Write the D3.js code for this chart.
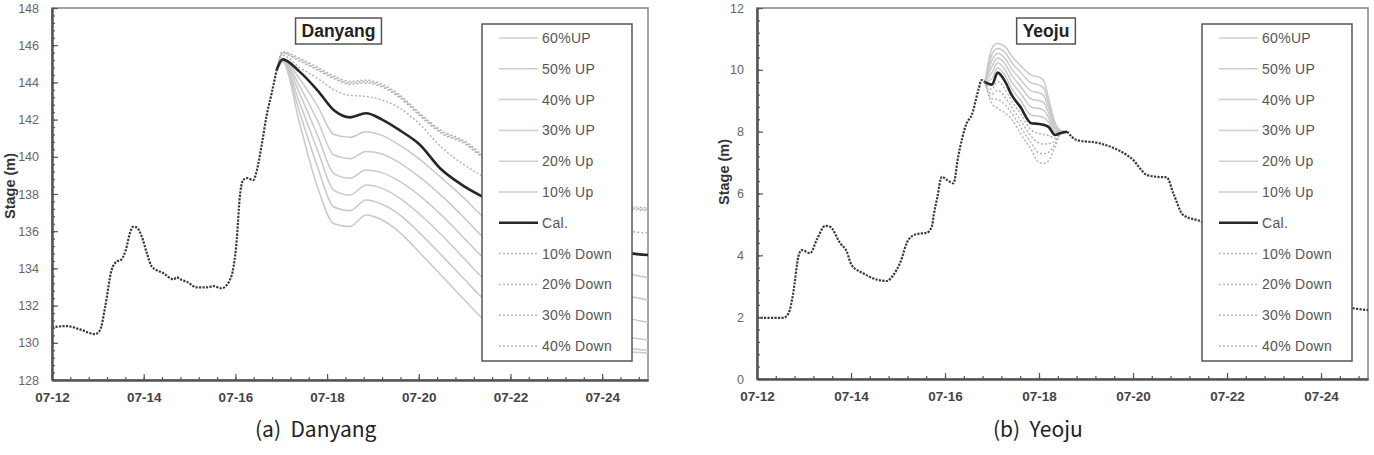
<!DOCTYPE html>
<html><head><meta charset="utf-8">
<script src="https://cdn.jsdelivr.net/npm/d3@7"></script>
<style>body{margin:0;background:#fff}svg{display:block}</style>
</head><body>
<svg id="c" width="1374" height="455"></svg>
<script>
// ---------------- DATA ----------------
const legendLabels = ["60%UP","50% UP","40% UP","30% UP","20% Up","10% Up","Cal.","10% Down","20% Down","30% Down","40% Down"];
const xTickDays = [0,2,4,6,8,10,12];
const xTickLabels = ["07-12","07-14","07-16","07-18","07-20","07-22","07-24"];
const danyangYTicks = [128,130,132,134,136,138,140,142,144,146,148];
const yeojuYTicks = [0,2,4,6,8,10,12];

// Danyang: common part (days since 07-12 00:00)
const danyangBaseT = [0,0.32,0.61,0.94,1.05,1.16,1.30,1.41,1.5,1.61,1.70,1.77,1.85,1.96,2.07,2.18,2.43,2.65,2.72,2.83,2.94,3.16,3.38,3.52,3.7,3.88,3.96,4.03,4.09,4.17,4.25,4.39,4.47,4.58,4.68,4.79,4.9];
const danyangBaseV = [130.83,130.9,130.72,130.47,130.69,131.94,133.91,134.36,134.45,134.99,135.9,136.24,136.2,135.7,134.81,134.09,133.74,133.41,133.52,133.38,133.28,132.98,132.98,133.05,132.93,133.38,134.09,135.53,137.68,138.75,138.86,138.75,139.29,140.73,142.2,143.4,144.67];
// Danyang: scenario part
const danyangT     = [4.9,5.03,5.4,5.8,6.15,6.5,6.85,7.2,7.6,8.0,8.5,9.0,9.4,10,11,12,12.6,13];
const danyangUp60  = [144.67,145.12,141.8,138.3,136.4,136.25,136.87,136.6,135.9,134.9,133.6,132.3,131.3,130.6,129.9,129.6,129.5,129.45];
const danyangUp50  = [144.67,145.14,142.4,139.4,137.3,137.1,137.68,137.45,136.85,135.95,134.7,133.4,132.4,131.6,130.6,129.9,129.7,129.6];
const danyangUp40  = [144.67,145.16,142.9,140.3,138.2,137.95,138.48,138.3,137.75,136.95,135.8,134.5,133.5,132.7,131.6,130.7,130.3,130.15];
const danyangUp30  = [144.67,145.18,143.4,141.1,139.1,138.85,139.29,139.15,138.65,137.95,136.85,135.6,134.6,133.8,132.7,131.7,131.3,131.1];
const danyangUp20  = [144.67,145.2,143.8,141.9,140.1,139.9,140.28,140.15,139.65,138.95,137.9,136.7,135.7,134.9,133.8,132.9,132.5,132.3];
const danyangUp10  = [144.67,145.22,144.2,142.7,141.2,141.05,141.35,141.15,140.6,139.9,138.85,137.75,136.8,136.0,135.0,134.1,133.7,133.5];
const danyangCal   = [144.67,145.24,144.58,143.55,142.5,142.12,142.34,142.0,141.4,140.7,139.3,138.4,137.85,137.2,136.1,135.2,134.82,134.72];
const danyangDn10  = [144.67,145.45,144.8,144.2,143.6,143.3,143.25,143.05,142.6,141.8,140.5,139.55,138.95,138.2,137.3,136.4,136.0,135.9];
const danyangDn20  = [144.67,145.55,145.15,144.65,144.2,143.9,143.97,143.75,143.15,142.25,141.25,140.7,139.95,139.25,138.35,137.55,137.2,137.1];
const danyangDn30  = [144.67,145.6,145.22,144.72,144.27,143.97,144.05,143.82,143.22,142.32,141.32,140.77,140.02,139.32,138.42,137.62,137.27,137.17];
const danyangDn40  = [144.67,145.65,145.3,144.8,144.35,144.05,144.12,143.9,143.3,142.4,141.4,140.85,140.1,139.4,138.5,137.7,137.35,137.25];

// Yeoju: common parts
const yeojuBaseT = [0,0.56,0.67,0.77,0.88,0.95,1.13,1.27,1.45,1.55,1.77,1.91,2.01,2.26,2.54,2.76,2.9,3.04,3.22,3.4,3.61,3.72,3.76,3.84,3.93,4.04,4.18,4.28,4.46,4.57,4.71,4.78,4.85];
const yeojuBaseV = [1.98,1.98,2.12,2.77,3.96,4.17,4.07,4.5,4.95,4.93,4.39,4.12,3.69,3.42,3.22,3.17,3.36,3.74,4.5,4.69,4.73,4.93,5.3,5.9,6.54,6.44,6.33,7.19,8.27,8.54,9.35,9.67,9.6];
const yeojuTailT = [6.6,6.8,7.3,7.87,8.01,8.15,8.29,8.5,8.72,8.86,9.07,9.46,10,11,12,12.69,13];
const yeojuTailV = [8.0,7.73,7.62,7.24,7.08,6.81,6.6,6.54,6.52,6.0,5.3,5.09,4.6,3.6,2.7,2.29,2.23];
// Yeoju: scenario part
const yeojuT    = [4.85,5.0,5.12,5.28,5.42,5.6,5.84,6.0,6.1,6.2,6.34,6.45,6.6];
const yeojuUp60 = [9.6,10.7,10.85,10.75,10.45,10.15,9.83,9.76,9.65,9.1,8.3,8.05,8.0];
const yeojuUp50 = [9.6,10.5,10.69,10.56,10.24,9.93,9.57,9.51,9.41,8.94,8.23,8.03,8.0];
const yeojuUp40 = [9.6,10.31,10.54,10.37,10.03,9.7,9.31,9.26,9.17,8.79,8.16,8.02,8.0];
const yeojuUp30 = [9.6,10.11,10.38,10.19,9.82,9.48,9.05,9.0,8.94,8.63,8.1,8.0,8.0];
const yeojuUp20 = [9.6,9.91,10.22,10.0,9.6,9.26,8.79,8.75,8.7,8.47,8.03,7.98,8.0];
const yeojuUp10 = [9.6,9.72,10.07,9.81,9.39,9.03,8.53,8.5,8.46,8.32,7.96,7.97,8.0];
const yeojuCal  = [9.6,9.52,9.91,9.62,9.18,8.81,8.27,8.25,8.22,8.16,7.89,7.95,8.0];
const yeojuDn10 = [9.6,9.37,9.62,9.37,8.99,8.6,8.05,7.94,7.91,7.88,7.79,7.94,8.0];
const yeojuDn20 = [9.6,9.21,9.33,9.11,8.79,8.38,7.84,7.63,7.6,7.61,7.7,7.93,8.0];
const yeojuDn30 = [9.6,9.06,9.04,8.86,8.6,8.17,7.62,7.31,7.29,7.33,7.6,7.91,8.0];
const yeojuDn40 = [9.6,8.9,8.75,8.6,8.4,7.95,7.4,7.0,6.98,7.05,7.5,7.9,8.0];

// ---------------- DRAW ----------------
const svg = d3.select("#c");
const FONT = "'Liberation Sans', Arial, sans-serif";
const zip = (t, v) => t.map((d, i) => [d, v[i]]);

const panels = [
  { title: "Danyang", caption: "(a)\u00a0 Danyang", capX: 255,
    x0: 52, x1: 648, y0: 8, y1: 380, yDomain: [128, 148], yTicks: danyangYTicks,
    yLabelX: 15, yLabelY: 186, titleCx: 338.5,
    base: [zip(danyangBaseT, danyangBaseV)],
    series: [danyangUp60, danyangUp50, danyangUp40, danyangUp30, danyangUp20, danyangUp10,
             danyangCal, danyangDn10, danyangDn20, danyangDn30, danyangDn40].map(v => zip(danyangT, v)) },
  { title: "Yeoju", caption: "(b)\u00a0 Yeoju", capX: 993,
    x0: 757, x1: 1368, y0: 8, y1: 379, yDomain: [0, 12], yTicks: yeojuYTicks,
    yLabelX: 729, yLabelY: 172, titleCx: 1046,
    base: [zip(yeojuBaseT, yeojuBaseV), zip(yeojuTailT, yeojuTailV)],
    series: [yeojuUp60, yeojuUp50, yeojuUp40, yeojuUp30, yeojuUp20, yeojuUp10,
             yeojuCal, yeojuDn10, yeojuDn20, yeojuDn30, yeojuDn40].map(v => zip(yeojuT, v)) }
];

function styleOf(i) {
  if (i < 6) return { stroke: "#c9c9c9", width: 1.5, dash: null, off: 0 };
  if (i === 6) return { stroke: "#262626", width: 2.6, dash: null, off: 0 };
  return { stroke: "#b0b0b0", width: 1.4, dash: "2,2", off: (i - 7) * 1.3 };
}

panels.forEach(p => {
  const x = d3.scaleLinear().domain([0, 13]).range([p.x0, p.x1]);
  const y = d3.scaleLinear().domain(p.yDomain).range([p.y1, p.y0]);
  const g = svg.append("g");

  // frame
  g.append("rect").attr("x", p.x0).attr("y", p.y0).attr("width", p.x1 - p.x0).attr("height", p.y1 - p.y0)
    .attr("fill", "none").attr("stroke", "#8c8c8c").attr("stroke-width", 1.6);

  const line = d3.line().x(d => x(d[0])).y(d => y(d[1])).curve(d3.curveMonotoneX);

  // draw order: Up, Down, Cal
  const order = [0,1,2,3,4,5,7,8,9,10,6];
  order.forEach(i => {
    const s = styleOf(i);
    g.append("path").attr("d", line(p.series[i])).attr("fill", "none")
      .attr("stroke", s.stroke).attr("stroke-width", s.width)
      .attr("stroke-dasharray", s.dash).attr("stroke-dashoffset", s.off).attr("stroke-linejoin", "round");
  });
  // common part
  p.base.forEach(b => {
    g.append("path").attr("d", line(b)).attr("fill", "none")
      .attr("stroke", "#3a3a3a").attr("stroke-width", 2.2).attr("stroke-dasharray", "2.2,1.3");
  });

  // axes
  const yMinor = d3.range(p.yDomain[0], p.yDomain[1] + 0.001, 0.4);
  const xMinor = d3.range(0, 13.001, 0.4);
  const axY = g.append("g").attr("transform", `translate(${p.x0},0)`)
    .call(d3.axisLeft(y).tickValues(yMinor).tickSize(-3).tickSizeOuter(0).tickFormat(""));
  const axY2 = g.append("g").attr("transform", `translate(${p.x0},0)`)
    .call(d3.axisLeft(y).tickValues(p.yTicks).tickSize(-6).tickSizeOuter(0).tickPadding(13).tickFormat(d3.format("d")));
  const axX = g.append("g").attr("transform", `translate(0,${p.y1})`)
    .call(d3.axisBottom(x).tickValues(xMinor).tickSize(-3).tickSizeOuter(0).tickFormat(""));
  const axX2 = g.append("g").attr("transform", `translate(0,${p.y1})`)
    .call(d3.axisBottom(x).tickValues(xTickDays).tickSize(-6).tickSizeOuter(0).tickPadding(12)
      .tickFormat((d, i) => xTickLabels[i]));
  [axY, axY2, axX, axX2].forEach(a => {
    a.select(".domain").attr("stroke", "#555").attr("stroke-width", 2);
    a.selectAll(".tick line").attr("stroke", "#555").attr("stroke-width", 1.2);
  });
  axY2.selectAll("text").attr("font-family", FONT).attr("font-size", 12.5).attr("fill", "#666");
  axX2.selectAll("text").attr("font-family", FONT).attr("font-size", 13.5).attr("font-weight", "bold").attr("fill", "#444");

  // y label
  g.append("text").attr("transform", `translate(${p.yLabelX},${p.yLabelY}) rotate(-90)`)
    .attr("text-anchor", "middle").attr("font-family", FONT).attr("font-size", 14.5)
    .attr("font-weight", "bold").attr("fill", "#333").text("Stage (m)");

  // title box
  const tg = g.append("g");
  const tr = tg.append("rect");
  const tt = tg.append("text").attr("x", p.titleCx).attr("y", 37).attr("text-anchor", "middle")
    .attr("font-family", FONT).attr("font-size", 17.5).attr("font-weight", "bold").attr("fill", "#222").text(p.title);
  const bb = tt.node().getBBox();
  tr.attr("x", bb.x - 6).attr("y", 18).attr("width", bb.width + 12).attr("height", 26)
    .attr("fill", "#fff").attr("stroke", "#555").attr("stroke-width", 1.5);

  // legend
  const lx = p.x1 - 166, ly = p.y0 + 16;
  const lg = g.append("g");
  lg.append("rect").attr("x", lx).attr("y", ly).attr("width", 150).attr("height", 337)
    .attr("fill", "#fff").attr("stroke", "#555").attr("stroke-width", 1.5);
  legendLabels.forEach((lab, i) => {
    const s = styleOf(i);
    const yy = ly + 14 + i * 30.8;
    lg.append("line").attr("x1", lx + 17).attr("x2", lx + 56).attr("y1", yy).attr("y2", yy)
      .attr("stroke", i === 6 ? s.stroke : (i < 6 ? "#cfcfcf" : "#b8b8b8"))
      .attr("stroke-width", i === 6 ? 2.6 : 1.5).attr("stroke-dasharray", s.dash);
    lg.append("text").attr("x", lx + 60).attr("y", yy + 5).attr("font-family", FONT).attr("font-size", 14)
      .attr("letter-spacing", 0.3).attr("fill", "#555").text(lab);
  });

  // caption
  svg.append("text").attr("x", p.capX).attr("y", 437).attr("font-family", "'Noto Sans CJK KR', 'Noto Sans', sans-serif")
    .attr("font-size", 21).attr("fill", "#222").text(p.caption);
});
</script>
</body></html>
